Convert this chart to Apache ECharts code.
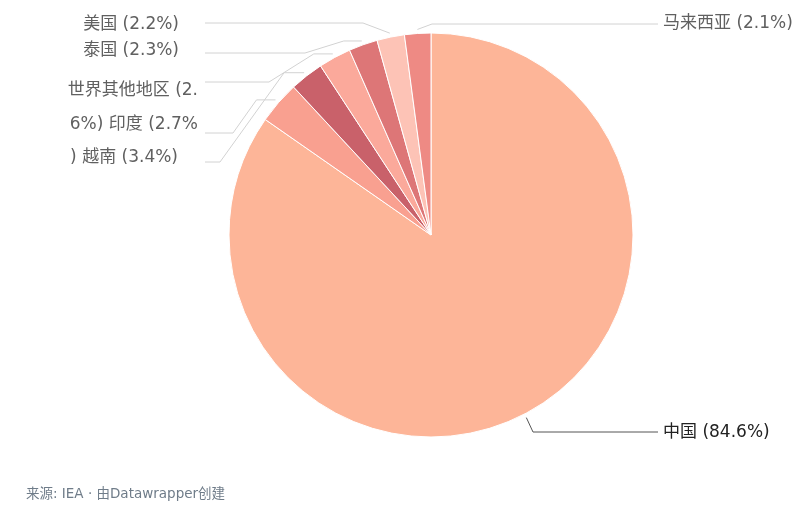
<!DOCTYPE html>
<html>
<head>
<meta charset="utf-8">
<title>pie</title>
<script src="https://cdn.jsdelivr.net/npm/echarts@6/dist/echarts.min.js"></script>
<style>
  html, body { margin: 0; padding: 0; background: #fff; }
  #main { width: 800px; height: 524px; }
</style>
</head>
<body>
<div id="main"></div>
<script>
// data, clockwise from 12 o'clock
var names = ['中国', '越南', '印度', '世界其他地区', '泰国', '美国', '马来西亚'];
var values = [84.6, 3.4, 2.7, 2.6, 2.3, 2.2, 2.1];
// label texts as they appear (wrapped/overlapping in the original)
var labelTexts = ['中国 (84.6%)', ') 越南 (3.4%)', '6%) 印度 (2.7%', '世界其他地区 (2.', '泰国 (2.3%)', '美国 (2.2%)', '马来西亚 (2.1%)'];
var colors = ['#fdb598', '#f9a090', '#c9616a', '#fba99b', '#dd7677', '#fdc3b6', '#ee8a84'];

var CX = 431, CY = 235, R = 202;
var FONT = '"DejaVu Sans", "Noto Sans CJK SC", sans-serif';

// where each label sits and how its leader line runs
var labelSpots = [
  { x: 663, y: 433, align: 'left',  lineY: 432, elbowX: 533, stub: 0,  end: 658, anchor: 0 },
  { x: 178, y: 158, align: 'right', lineY: 162, elbowX: 220, stub: 20, end: 205, anchor: 2 },
  { x: 198, y: 125, align: 'right', lineY: 133, elbowX: 233, stub: 19, end: 205, anchor: 1 },
  { x: 198, y: 91,  align: 'right', lineY: 82,  elbowX: 269, stub: 19, end: 205, anchor: 3 },
  { x: 179, y: 51,  align: 'right', lineY: 53,  elbowX: 305, stub: 18, end: 205, anchor: 4 },
  { x: 179, y: 25,  align: 'right', lineY: 23,  elbowX: 363, stub: 0,  end: 205, anchor: 5 },
  { x: 663, y: 24,  align: 'left',  lineY: 24,  elbowX: 432, stub: 0,  end: 658, anchor: 6 }
];

// point just outside the rim at the middle of a slice
function anchorOf(i) {
  var total = values.reduce(function (a, b) { return a + b; }, 0);
  var cum = 0;
  for (var k = 0; k < i; k++) cum += values[k];
  var mid = (cum + values[i] / 2) / total * Math.PI * 2;
  var r = R + 4;
  return [CX + r * Math.sin(mid), CY - r * Math.cos(mid)];
}

var seriesData = names.map(function (n, i) {
  return {
    name: n,
    value: values[i],
    itemStyle: { color: colors[i] },
    label: i === 0 ? { color: '#222' } : {},
    labelLine: { lineStyle: { color: i === 0 ? '#555' : '#d2d2d2' } }
  };
});

var myChart = echarts.init(document.getElementById('main'));
myChart.setOption({
  animation: false,
  graphic: [{
    type: 'text',
    left: 26,
    top: 488,
    style: {
      text: '来源: IEA · 由Datawrapper创建',
      fill: '#6f7c89',
      font: '13.5px ' + FONT
    }
  }],
  series: [{
    type: 'pie',
    center: [CX, CY],
    radius: R,
    startAngle: 90,
    clockwise: true,
    avoidLabelOverlap: false,
    itemStyle: { borderColor: '#fff', borderWidth: 1 },
    label: {
      show: true,
      position: 'outside',
      fontSize: 17,
      fontFamily: FONT,
      color: '#606060',
      formatter: function (p) { return labelTexts[p.dataIndex]; }
    },
    labelLine: { show: true, lineStyle: { width: 1 } },
    labelLayout: function (p) {
      var s = labelSpots[p.dataIndex];
      var a = anchorOf(s.anchor);
      var pts = [a];
      if (s.stub) pts.push([a[0] - s.stub, a[1]]);
      pts.push([s.elbowX, s.lineY]);
      pts.push([s.end, s.lineY]);
      return {
        x: s.x,
        y: s.y,
        align: s.align,
        verticalAlign: 'middle',
        labelLinePoints: pts
      };
    },
    data: seriesData
  }]
});
</script>
</body>
</html>
